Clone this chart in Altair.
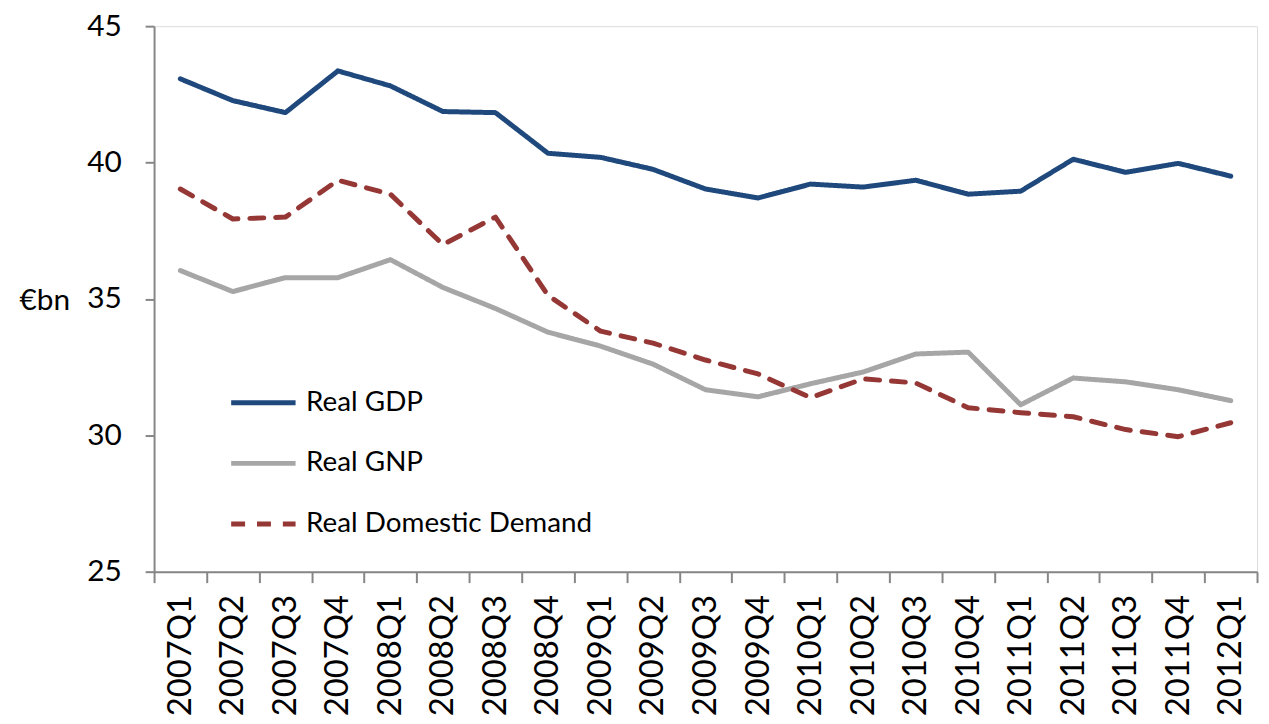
import altair as alt
import pandas as pd

quarters = ["2007Q1", "2007Q2", "2007Q3", "2007Q4", "2008Q1", "2008Q2", "2008Q3",
            "2008Q4", "2009Q1", "2009Q2", "2009Q3", "2009Q4", "2010Q1", "2010Q2",
            "2010Q3", "2010Q4", "2011Q1", "2011Q2", "2011Q3", "2011Q4", "2012Q1"]
real_gdp = [43.07, 42.27, 41.83, 43.36, 42.81, 41.87, 41.83, 40.34, 40.19, 39.75,
            39.03, 38.70, 39.21, 39.10, 39.35, 38.84, 38.95, 40.12, 39.64, 39.97, 39.50]
real_gnp = [36.04, 35.27, 35.78, 35.78, 36.44, 35.42, 34.65, 33.78, 33.27, 32.61,
            31.67, 31.41, 31.89, 32.32, 32.98, 33.05, 31.12, 32.10, 31.96, 31.67, 31.27]
real_dd = [39.03, 37.93, 38.00, 39.35, 38.84, 36.99, 38.00, 35.13, 33.82, 33.38,
           32.76, 32.25, 31.38, 32.07, 31.92, 31.01, 30.83, 30.68, 30.21, 29.95, 30.46]

series_names = ["Real GDP", "Real GNP", "Real Domestic Demand"]
series_colors = ["#1F497D", "#A6A6A6", "#953735"]
y_ticks = [25, 30, 35, 40, 45]

rows = []
for name, vals in zip(series_names, [real_gdp, real_gnp, real_dd]):
    for q, v in zip(quarters, vals):
        rows.append({"quarter": q, "value": v, "series": name})
df = pd.DataFrame(rows)

FONT = "Lato"

legend_opts = dict(orient="none", legendX=75, legendY=344,
                   symbolType="stroke", symbolSize=4200,
                   symbolStrokeWidth=5, labelFontSize=28,
                   labelFont=FONT, labelColor="#000000",
                   labelOffset=8, rowPadding=12,
                   labelLimit=500)

chart = alt.Chart(df).mark_line(strokeWidth=5, strokeCap="round", strokeJoin="round").encode(
    x=alt.X("quarter:N", sort=quarters, title=None,
            scale=alt.Scale(paddingInner=0, paddingOuter=0),
            axis=alt.Axis(tickBand="extent", labelAngle=-90, labelFontSize=33,
                          labelFont=FONT, labelColor="#000000", labelPadding=12,
                          tickSize=11, tickColor="#868686", tickWidth=2,
                          domainColor="#868686", domainWidth=2, grid=False)),
    y=alt.Y("value:Q", title="€bn",
            scale=alt.Scale(domain=[25, 45], nice=False, zero=False),
            axis=alt.Axis(values=y_ticks, labelFontSize=30, labelFont=FONT,
                          labelColor="#000000", labelPadding=24, tickSize=9,
                          tickColor="#868686", tickWidth=2, domainColor="#868686",
                          domainWidth=2, grid=False, titleAngle=0, titleFontSize=30,
                          titleFont=FONT, titleFontWeight="normal", titleColor="#000000",
                          titleX=-85, titleY=276, titleAlign="right",
                          titleBaseline="middle")),
    color=alt.Color("series:N", title=None,
                    scale=alt.Scale(domain=series_names, range=series_colors),
                    legend=alt.Legend(**legend_opts)),
    strokeDash=alt.StrokeDash("series:N", title=None,
                              scale=alt.Scale(domain=series_names,
                                              range=[[1, 0], [1, 0], [14, 12]]),
                              legend=alt.Legend(**legend_opts)),
).properties(
    width=1110, height=549,
    autosize=alt.AutoSizeParams(type="none"),
    padding={"left": 147, "top": 16, "right": 4, "bottom": 150},
).configure_view(stroke=None).configure(background="#ffffff")

chart.save("out.html", embed_options={"renderer": "svg", "actions": False})
